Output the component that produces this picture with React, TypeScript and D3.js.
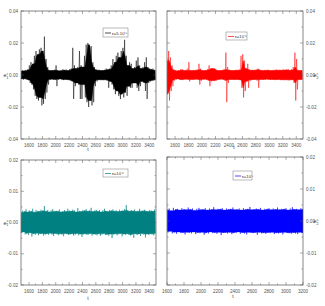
import React from 'react';
import * as d3 from 'd3';

// sample times
const topTimes = d3.range(1480, 3481, 25);
const brTimes = d3.range(1600, 3201, 25);

// tick values
const topXTicks = [1600, 1800, 2000, 2200, 2400, 2600, 2800, 3000, 3200, 3400];
const brXTicks = [1600, 1800, 2000, 2200, 2400, 2600, 2800, 3000, 3200];
const topYTicks = [-0.04, -0.02, 0, 0.02, 0.04];
const bottomYTicks = [-0.02, -0.01, 0, 0.01, 0.02];

// envelopes (units of 1e-3)
const blackHi = [2.5,3,2.6,3.2,3.5,6,8,7,12,15,13,16,17,15,24,10,5,3,2.8,3,3.2,6,3,2.6,3,3.5,3,3.4,2.8,3.6,4,17,6,4,5,15,6,5,12,19,20,19,18,8,5,3.5,3,3.2,2.8,3,3.2,4,3.5,4,6,10,8,12,14,11,15,17,22,12,6,8,7,4,5,9,11,6,4,5,8,11,5,4,3.5,4,3];
const blackLo = [-2.5,-2.8,-2.4,-3,-3.2,-5,-6,-9,-13,-15,-16,-14,-19,-18,-15,-11,-6,-3,-2.6,-3,-2.8,-7,-3,-2.5,-3,-3.2,-2.8,-3,-3,-3.5,-4,-15,-7,-5,-6,-15,-15,-6,-14,-17,-20,-16,-19,-17,-7,-4,-3,-3,-3,-3.2,-3,-3.5,-8,-4,-6,-9,-12,-10,-13,-15,-12,-14,-11,-13,-7,-8,-8,-5,-5,-8,-10,-7,-4,-5,-10,-15,-5,-4,-3.5,-3.5,-3];

const redHi = [9,15,11,6,3.5,3,2.6,3,3.5,3.6,3,2.8,4,8,3,2.8,3.2,3,3.4,7,4,3,2.8,3.2,3.5,6,4,4,4.2,3.8,3,2.8,3,3.2,3.5,14,5,3.2,3,2.8,3,3.2,3,3.4,12,13,9,4,7,3.5,3,3.2,3,3.5,4,3.4,3,2.8,3.2,3,3.2,3,2.8,3.2,3,3.4,3,3.2,3,3.5,3.2,3.4,3.6,3,3.5,5,14,10,3,2.8,3];
const redLo = [-12,-16,-10,-7,-3.5,-2.8,-2.5,-3,-3,-3.2,-2.8,-2.6,-3,-4,-2.8,-3,-3,-2.6,-3,-6,-3.5,-3,-2.6,-3,-3.5,-7,-4,-3.5,-3.8,-3.5,-3,-2.8,-2.6,-3,-3.5,-17,-5,-3,-2.8,-3,-3,-2.8,-3,-3.2,-8,-14,-10,-4,-8,-3.5,-3,-3,-2.8,-3.5,-8,-3,-2.8,-3,-3,-2.6,-3,-3,-2.8,-3,-3,-3,-2.8,-3.2,-3,-3.2,-3,-3.2,-3.4,-3,-3,-5,-16,-9,-3,-2.8,-3];

const tealHi = [3.2,3.8,3.5,4.2,3.4,3.9,3.6,4.4,3.3,4.0,3.7,3.5,4.1,3.8,5.3,3.6,4.0,3.4,3.9,4.3,3.5,3.8,3.6,4.2,3.4,3.7,4.0,3.5,4.4,3.8,3.6,4.1,3.9,3.4,4.6,3.7,3.5,4.0,3.8,4.3,3.6,3.9,4.7,3.5,3.8,4.1,3.6,4.0,3.4,3.9,4.4,3.7,3.5,4.0,3.8,4.2,3.6,3.9,3.5,4.1,3.7,3.8,4.3,5.6,3.9,3.6,4.0,3.7,4.2,3.5,3.8,4.4,3.6,3.9,4.1,3.7,3.5,4.0,3.8,3.6,4.2];
const tealLo = [-3.4,-3.0,-3.8,-3.5,-4.0,-3.3,-4.5,-3.6,-3.9,-3.4,-4.1,-3.7,-3.5,-4.2,-3.8,-3.6,-4.0,-3.4,-3.9,-4.3,-3.5,-3.8,-4.1,-3.6,-3.9,-4.4,-3.5,-3.7,-4.0,-3.8,-3.6,-4.2,-3.9,-3.5,-4.1,-3.7,-4.6,-3.8,-3.6,-4.0,-3.9,-3.5,-4.2,-3.7,-3.8,-4.1,-3.6,-4.3,-3.9,-3.5,-4.0,-3.8,-4.2,-3.7,-5.0,-3.9,-3.6,-4.1,-3.8,-3.5,-4.4,-3.7,-4.0,-3.6,-3.9,-4.2,-3.8,-4.9,-3.6,-4.0,-3.7,-4.3,-3.5,-3.9,-4.8,-3.7,-4.0,-3.6,-3.8,-4.1,-3.5];

const blueHi = [3.5,3.9,3.2,4.1,3.6,3.8,3.4,4.0,3.7,3.5,4.2,3.6,3.9,3.3,3.8,4.1,3.5,3.7,4.0,3.4,3.9,3.6,4.3,3.5,3.8,3.7,4.0,3.4,3.9,3.6,3.8,4.2,3.5,3.7,3.9,3.4,4.0,3.6,3.8,4.4,3.5,3.7,3.9,3.6,4.1,3.4,3.8,3.7,4.0,3.5,3.9,3.6,4.2,3.5,3.8,3.7,4.0,3.4,3.9,4.3,3.6,3.8,3.5,4.0,3.7];
const blueLo = [-3.6,-3.2,-3.9,-3.5,-4.0,-3.4,-3.8,-3.6,-4.2,-3.5,-3.7,-3.9,-3.4,-4.1,-3.6,-3.8,-3.5,-4.3,-3.7,-3.9,-3.4,-3.8,-3.6,-4.0,-3.5,-4.4,-3.7,-3.6,-3.9,-3.5,-4.1,-3.7,-3.8,-3.4,-4.0,-3.6,-3.9,-4.2,-3.5,-3.7,-3.8,-3.6,-4.3,-3.5,-3.9,-3.7,-4.0,-3.6,-3.8,-3.5,-4.1,-3.7,-3.9,-3.6,-4.2,-3.5,-3.8,-3.7,-4.0,-3.6,-3.9,-4.1,-3.5,-3.8,-3.7];

const legendLabels = ['ε=5.10⁻⁵', 'ε=10⁻⁵', 'ε=10⁻⁶', 'ε=10⁻⁷'];
const yTitles = [['e', '1', 'r'], ['e', '2', 'r'], ['e', '1', 'c'], ['e', '2', 'c']];

const FONT = "'Liberation Sans Narrow', 'Liberation Sans', Arial, sans-serif";

const panels = [
  { times: topTimes, hi: blackHi, lo: blackLo, color: '#000000', xDomain: [1480, 3500], xTicks: topXTicks, yTicks: topYTicks, yMax: 40,
    box: { x0: 21, x1: 156, y0: 11, y1: 139 }, side: 'left', legend: { x: 103, y: 28, w: 25, h: 9 }, tPos: [88, 151] },
  { times: topTimes, hi: redHi, lo: redLo, color: '#ff0000', xDomain: [1480, 3500], xTicks: topXTicks, yTicks: topYTicks, yMax: 40,
    box: { x0: 167, x1: 303, y0: 11, y1: 139 }, side: 'right', legend: { x: 226, y: 32, w: 21, h: 8 }, tPos: [234, 149] },
  { times: topTimes, hi: tealHi, lo: tealLo, color: '#008080', xDomain: [1480, 3500], xTicks: topXTicks, yTicks: bottomYTicks, yMax: 20,
    box: { x0: 21, x1: 156, y0: 160, y1: 285 }, side: 'left', legend: { x: 103, y: 169, w: 25, h: 8 }, tPos: [88, 300] },
  { times: brTimes, hi: blueHi, lo: blueLo, color: '#0000ff', xDomain: [1600, 3200], xTicks: brXTicks, yTicks: bottomYTicks, yMax: 20,
    box: { x0: 167, x1: 303, y0: 157, y1: 285 }, side: 'right', legend: { x: 233, y: 171, w: 19, h: 9 }, tPos: [233, 298] },
];

function Panel({ p, idx }: { p: any; idx: number }) {
  const { box } = p;
  const x = d3.scaleLinear().domain(p.xDomain).range([box.x0, box.x1]);
  const y = d3.scaleLinear().domain([-p.yMax, p.yMax]).range([box.y1, box.y0]);
  const step = p.times[1] - p.times[0];
  const n = Math.min(p.times.length, p.hi.length, p.lo.length);
  const idxs = d3.range(n);
  // zigzag: peak at each sample time, trough half a sample later
  const pts: [number, number][] = [];
  idxs.forEach((i) => {
    pts.push([x(p.times[i]), y(p.hi[i])]);
    pts.push([x(p.times[i] + step / 2), y(p.lo[i])]);
  });
  const line = d3.line()(pts) || '';
  // filled envelope core
  const area = d3.area<number>()
    .x((i) => x(p.times[i] + step / 4))
    .y0((i) => y(Math.max(p.lo[i], i > 0 ? p.lo[i - 1] : p.lo[i], i < n - 1 ? p.lo[i + 1] : p.lo[i])))
    .y1((i) => y(Math.min(p.hi[i], i > 0 ? p.hi[i - 1] : p.hi[i], i < n - 1 ? p.hi[i + 1] : p.hi[i])))(idxs) || '';
  const xMinor: number[] = [];
  for (let i = 0; i < p.xTicks.length - 1; i++) xMinor.push((p.xTicks[i] + p.xTicks[i + 1]) / 2);
  const yMinor: number[] = [];
  for (let i = 0; i < p.yTicks.length - 1; i++) yMinor.push((p.yTicks[i] + p.yTicks[i + 1]) / 2);
  const ym = (v: number) => y(v * 1000);
  const frame = '#555';
  const clipId = 'clip' + idx;
  const lg = p.legend;
  const fmt = (v: number) => (Math.abs(v) < 1e-9 ? '0.00' : v.toFixed(2));
  const labX = p.side === 'left' ? box.x0 - 3 : box.x1 + 3;
  const anchor = p.side === 'left' ? 'end' : 'start';
  const title = yTitles[idx];
  const titleX = p.side === 'left' ? 6 : 316;
  return (
    <g>
      <clipPath id={clipId}>
        <rect x={box.x0} y={box.y0} width={box.x1 - box.x0} height={box.y1 - box.y0} />
      </clipPath>
      <g clipPath={`url(#${clipId})`}>
        <path d={area} fill={p.color} stroke={p.color} strokeWidth={0.4} />
        <path d={line} fill="none" stroke={p.color} strokeWidth={0.5} />
      </g>
      <rect x={box.x0} y={box.y0} width={box.x1 - box.x0} height={box.y1 - box.y0} fill="none" stroke={frame} strokeWidth={0.7} />
      {p.xTicks.map((t: number) => (
        <g key={'xt' + t}>
          <line x1={x(t)} x2={x(t)} y1={box.y1} y2={box.y1 - 3} stroke={frame} strokeWidth={0.5} />
          <line x1={x(t)} x2={x(t)} y1={box.y0} y2={box.y0 + 3} stroke={frame} strokeWidth={0.5} />
          <text x={x(t)} y={box.y1 + 8} fontSize={4.6} fill="#555" textAnchor="middle" fontFamily={FONT}>{t}</text>
        </g>
      ))}
      {xMinor.map((t) => (
        <g key={'xm' + t}>
          <line x1={x(t)} x2={x(t)} y1={box.y1} y2={box.y1 - 1.5} stroke={frame} strokeWidth={0.5} />
          <line x1={x(t)} x2={x(t)} y1={box.y0} y2={box.y0 + 1.5} stroke={frame} strokeWidth={0.5} />
        </g>
      ))}
      {p.yTicks.map((v: number) => (
        <g key={'yt' + v}>
          <line x1={box.x0} x2={box.x0 + 3} y1={ym(v)} y2={ym(v)} stroke={frame} strokeWidth={0.5} />
          <line x1={box.x1} x2={box.x1 - 3} y1={ym(v)} y2={ym(v)} stroke={frame} strokeWidth={0.5} />
          <text x={labX} y={ym(v) + 1.6} fontSize={4.6} fill="#555" textAnchor={anchor} fontFamily={FONT}>{fmt(v)}</text>
        </g>
      ))}
      {yMinor.map((v) => (
        <g key={'ym' + v}>
          <line x1={box.x0} x2={box.x0 + 1.5} y1={ym(v)} y2={ym(v)} stroke={frame} strokeWidth={0.5} />
          <line x1={box.x1} x2={box.x1 - 1.5} y1={ym(v)} y2={ym(v)} stroke={frame} strokeWidth={0.5} />
        </g>
      ))}
      <text x={titleX} y={ym(0) + 2} fontSize={5.5} fill="#333" fontFamily={FONT} textAnchor="middle">
        {title[0]}
        <tspan fontSize={3.5} dy={1.5}>{title[1]}</tspan>
        <tspan fontSize={3.5} dx={-1.8} dy={-4}>{title[2]}</tspan>
      </text>
      <text x={p.tPos[0]} y={p.tPos[1]} fontSize={5} fill="#444" textAnchor="middle" fontFamily={FONT}>t</text>
      <rect x={lg.x} y={lg.y} width={lg.w} height={lg.h} fill="#fff" stroke="#777" strokeWidth={0.5} />
      <line x1={lg.x + 2} x2={lg.x + 8} y1={lg.y + lg.h / 2 + 0.5} y2={lg.y + lg.h / 2 + 0.5} stroke={p.color} strokeWidth={0.7} />
      <text x={lg.x + 9} y={lg.y + lg.h / 2 + 2} fontSize={4.2} fill="#333" fontFamily={FONT}>{legendLabels[idx]}</text>
    </g>
  );
}

export default function App() {
  return (
    <svg width={325} height={306} viewBox="0 0 325 306" style={{ position: 'absolute', left: 0, top: 0, background: '#fff' }}>
      <rect x={0} y={0} width={325} height={306} fill="#fff" />
      {panels.map((p, i) => (
        <Panel key={i} p={p} idx={i} />
      ))}
    </svg>
  );
}
